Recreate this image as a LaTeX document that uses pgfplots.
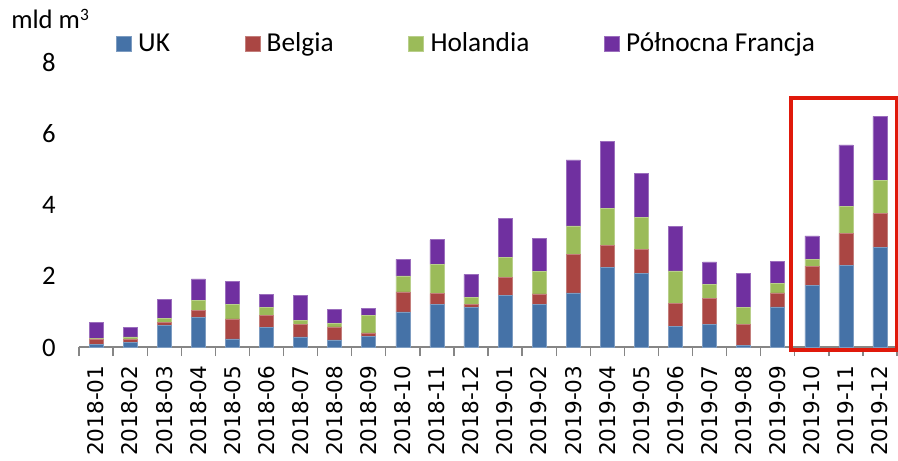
\documentclass[border=0pt]{standalone}
\usepackage{fontspec}
\setmainfont{Carlito}
\newfontfamily\dejavu{DejaVu Sans}
\usepackage{pgfplots}
\usepackage{pgfplotstable}
\pgfplotsset{compat=1.18}

\definecolor{cUK}{HTML}{4572A7}
\definecolor{cBE}{HTML}{AA4643}
\definecolor{cNL}{HTML}{9BBB59}
\definecolor{cFR}{HTML}{7030A0}
\definecolor{axgray}{HTML}{868686}
\definecolor{boxred}{HTML}{E0190B}

% x UK Belgia Holandia Polnocna Francja (mld m3)
\pgfplotstableread{
x UK Belgia Holandia Francja
0  0.08 0.16 0.01 0.45
1  0.15 0.07 0.08 0.27
2  0.62 0.08 0.11 0.54
3  0.85 0.18 0.29 0.60
4  0.24 0.56 0.40 0.66
5  0.56 0.33 0.23 0.36
6  0.30 0.34 0.13 0.70
7  0.21 0.37 0.10 0.39
8  0.31 0.10 0.48 0.21
9  1.00 0.56 0.45 0.46
10 1.21 0.30 0.82 0.69
11 1.13 0.07 0.21 0.64
12 1.47 0.50 0.55 1.10
13 1.20 0.30 0.63 0.93
14 1.53 1.07 0.81 1.85
15 2.25 0.61 1.03 1.89
16 2.08 0.66 0.90 1.25
17 0.59 0.64 0.92 1.25
18 0.64 0.74 0.38 0.64
19 0.06 0.58 0.49 0.95
20 1.14 0.39 0.27 0.61
21 1.74 0.54 0.19 0.66
22 2.30 0.89 0.77 1.72
23 2.81 0.94 0.94 1.79
}\data

\begin{document}
\begin{tikzpicture}
\useasboundingbox (-59.25pt,-84.4pt) rectangle (614.25pt,260.6pt);
\begin{axis}[
    name=ax,
    at={(0,0)}, anchor=south west,
    scale only axis,
    width=613.5pt, height=214pt,
    ybar stacked,
    bar width=10.5pt,
    xmin=-0.5, xmax=23.5,
    ymin=0, ymax=8,
    ytick={0,2,4,6,8},
    xtick={0,...,23},
    xticklabels={2018-01,2018-02,2018-03,2018-04,2018-05,2018-06,2018-07,2018-08,2018-09,2018-10,2018-11,2018-12,
                 2019-01,2019-02,2019-03,2019-04,2019-05,2019-06,2019-07,2019-08,2019-09,2019-10,2019-11,2019-12},
    minor xtick={-0.5,0.5,...,23.5},
    axis x line*=bottom,
    axis y line*=left,
    x axis line style={draw=axgray, line width=1.5pt, -},
    y axis line style={draw=none},
    major tick length=0pt,
    minor tick length=6.5pt,
    tick align=outside,
    minor tick style={draw=axgray, line width=1pt},
    ytick style={draw=none},
    xticklabel style={font=\dejavu\fontsize{16.2}{17}\selectfont, rotate=90, anchor=east},
    xticklabel shift=10pt,
    yticklabel style={font=\fontsize{20}{22}\selectfont},
    yticklabel shift=14pt,
    /pgf/number format/assume math mode=true,
    legend columns=-1,
    legend style={draw=none, fill=none, at={(0.045,1.066)}, anchor=west, inner sep=0pt,
        font=\fontsize{20.5}{22}\selectfont,
        nodes={inner sep=0pt},
        /tikz/every even column/.append style={column sep=56pt},
        /tikz/every odd column/.append style={column sep=5pt}},
    legend cell align=left,
    area legend,
    legend image code/.code={\fill[#1] (0pt,-5.6pt) rectangle (11.2pt,5.6pt);},
    clip=false,
]
\addplot[fill=cUK, draw=cUK!70!white] table[x=x, y=UK] {\data};
\addlegendentry{UK}
\addplot[fill=cBE, draw=cBE!70!white] table[x=x, y=Belgia] {\data};
\addlegendentry{Belgia}
\addplot[fill=cNL, draw=cNL!70!white] table[x=x, y=Holandia] {\data};
\addlegendentry{Holandia}
\addplot[fill=cFR, draw=cFR!70!white] table[x=x, y=Francja] {\data};
\addlegendentry{Północna Francja}
\draw[boxred, line width=3pt] (axis cs:20.38,-0.07) rectangle (axis cs:23.5,6.99);
\end{axis}
\node[anchor=base west, font=\fontsize{20}{22}\selectfont, inner sep=0pt] at (-51pt,239pt)
    {mld m\raisebox{0.62ex}{\fontsize{13}{13}\selectfont 3}};
\end{tikzpicture}
\end{document}
